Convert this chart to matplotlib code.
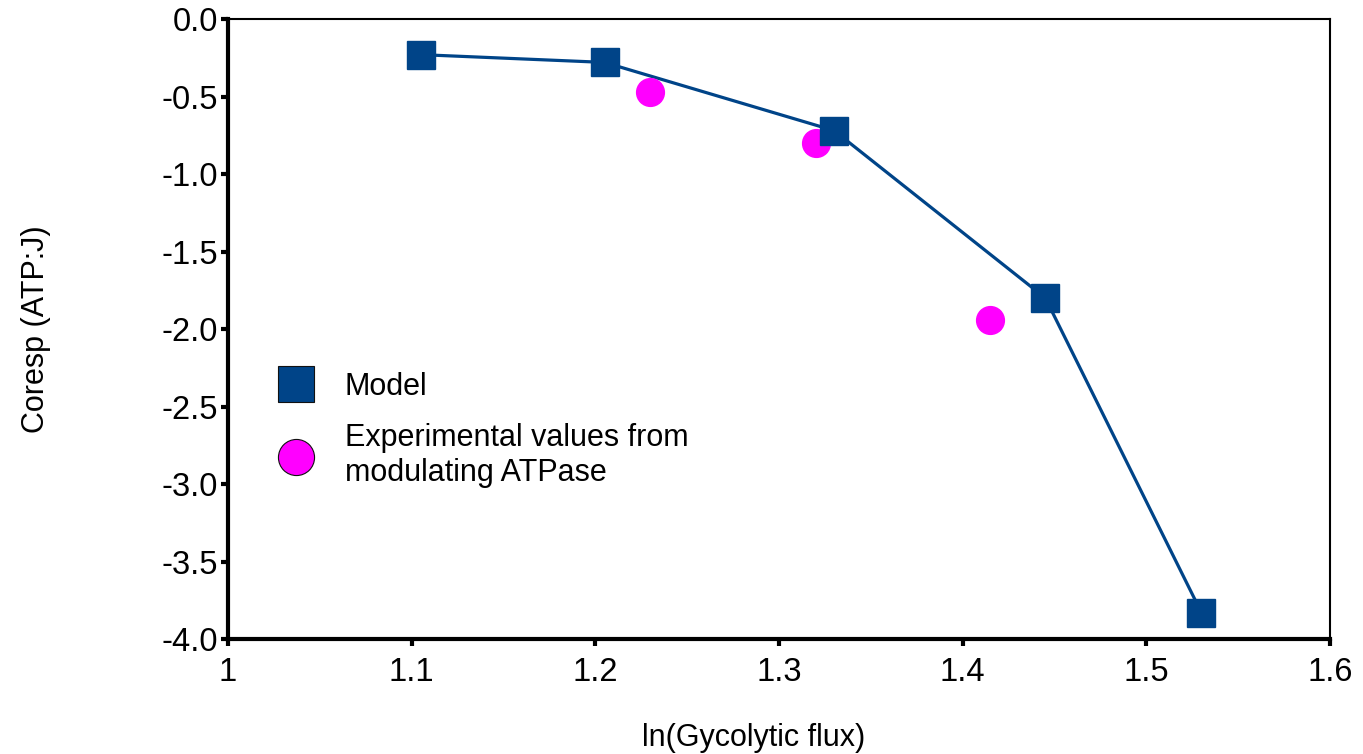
import matplotlib
matplotlib.use("Agg")
from matplotlib import pyplot as plt
from matplotlib.lines import Line2D

plt.rcParams['font.family'] = ['Liberation Sans', 'DejaVu Sans']

# model curve
model_x = [1.105, 1.205, 1.330, 1.445, 1.530]
model_y = [-0.23, -0.28, -0.72, -1.80, -3.83]

# experimental values (ATPase modulation)
exp_x = [1.230, 1.320, 1.415]
exp_y = [-0.47, -0.80, -1.94]

xticks = [1, 1.1, 1.2, 1.3, 1.4, 1.5, 1.6]
xticklabels = ["1", "1.1", "1.2", "1.3", "1.4", "1.5", "1.6"]
yticks = [0.0, -0.5, -1.0, -1.5, -2.0, -2.5, -3.0, -3.5, -4.0]

blue = "#004488"
pink = "#ff00ff"

fig = plt.figure(figsize=(13.63, 7.54), dpi=100)
ax = fig.add_axes([0.1673, 0.1525, 0.8085, 0.8223])

ax.plot(model_x, model_y, color=blue, lw=2.3, zorder=2)
ax.plot(model_x, model_y, ls="none", marker="s", ms=20, color=blue, mec=blue, zorder=4)
ax.plot(exp_x, exp_y, ls="none", marker="o", ms=20, color=pink, mec=pink, zorder=3)

ax.set_xlim(1, 1.6)
ax.set_ylim(-4.0, 0.0)
ax.set_xticks(xticks)
ax.set_xticklabels(xticklabels)
ax.set_yticks(yticks)
ax.set_yticklabels(["%.1f" % v for v in yticks])

ax.spines['left'].set_linewidth(3)
ax.spines['bottom'].set_linewidth(3)
ax.spines['top'].set_linewidth(1.5)
ax.spines['right'].set_linewidth(1.5)
ax.tick_params(direction="out", length=5, width=3, labelsize=23.5, pad=2)
ax.tick_params(axis="x", pad=8)

ax.set_xlabel("ln(Gycolytic flux)", fontsize=22)
ax.set_ylabel("Coresp (ATP:J)", fontsize=22)
ax.xaxis.set_label_coords(0.477, -0.135)
ax.yaxis.set_label_coords(-0.161, 0.5)

handles = [
    Line2D([], [], ls="none", marker="s", ms=26, color=blue, mec="#111111", mew=0.8),
    Line2D([], [], ls="none", marker="o", ms=26, color=pink, mec="#111111", mew=0.8),
]
labels = ["Model", "Experimental values from\nmodulating ATPase"]
ax.legend(handles, labels, loc="upper left", bbox_to_anchor=(0.016, 0.475),
          frameon=False, fontsize=22, handletextpad=0.85, labelspacing=0.7,
          handlelength=1.5)

fig.savefig("out.png", dpi=100)
